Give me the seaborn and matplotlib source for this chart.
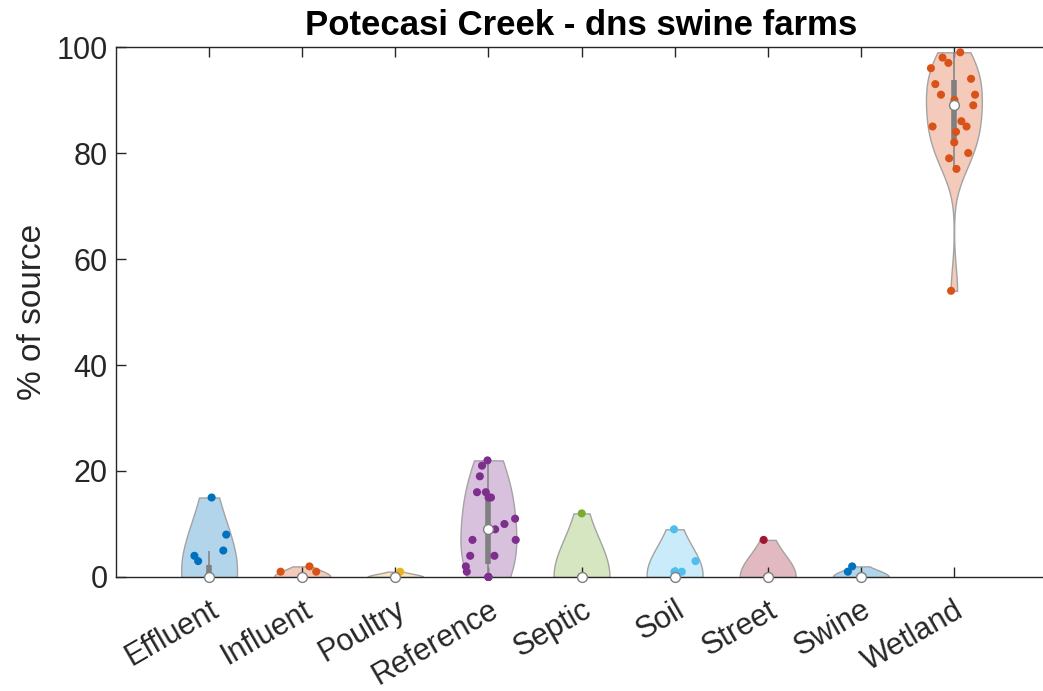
import numpy as np
import pandas as pd
import matplotlib
matplotlib.use("Agg")
import matplotlib.pyplot as plt
import matplotlib.colors as mcolors
import seaborn as sns

# ---------------- data ----------------
categories = ["Effluent", "Influent", "Poultry", "Reference", "Septic",
              "Soil", "Street", "Swine", "Wetland"]

effluent = [15, 8, 5, 4, 3, 0, 0, 0, 0, 0, 0, 0, 0, 0, 0, 0, 0, 0, 0]
influent = [2, 1, 1, 0, 0, 0, 0, 0, 0, 0, 0, 0, 0, 0, 0, 0, 0, 0, 0]
poultry = [1, 0, 0, 0, 0, 0, 0, 0, 0, 0, 0, 0, 0, 0, 0, 0, 0, 0, 0]
reference = [22, 21, 19, 16, 16, 15, 15, 11, 10, 9, 7, 7, 4, 4, 2, 1, 0, 0, 0]
septic = [12, 0, 0, 0, 0, 0, 0, 0, 0, 0, 0, 0, 0, 0, 0, 0, 0, 0, 0]
soil = [9, 3, 1, 1, 1, 0, 0, 0, 0, 0, 0, 0, 0, 0, 0, 0, 0, 0, 0]
street = [7, 0, 0, 0, 0, 0, 0, 0, 0, 0, 0, 0, 0, 0, 0, 0, 0, 0, 0]
swine = [2, 1, 0, 0, 0, 0, 0, 0, 0, 0, 0, 0, 0, 0, 0, 0, 0, 0, 0]
wetland = [99, 98, 97, 96, 94, 93, 91, 91, 90, 89, 86, 85, 85, 84, 82, 80, 79, 77, 54]

series = [effluent, influent, poultry, reference, septic, soil, street, swine, wetland]

colors = ["#0072BD", "#D95319", "#EDB120", "#7E2F8E", "#77AC30",
          "#4DBEEE", "#A2142F", "#0072BD", "#D95319"]

title = "Potecasi Creek - dns swine farms"
ylabel = "% of source"
yticks = [0, 20, 40, 60, 80, 100]

# ---------------- helpers ----------------
def matlab_bw(x):
    x = np.asarray(x, float)
    n = len(x)
    sig = np.median(np.abs(x - np.median(x))) / 0.6745
    if sig <= 0:
        sig = x.max() - x.min()
    if sig <= 0:
        sig = 1.0
    return sig * (4.0 / (3.0 * n)) ** 0.2


def kde(x, grid, bw):
    x = np.asarray(x, float)
    return np.exp(-0.5 * ((grid[:, None] - x[None, :]) / bw) ** 2).sum(axis=1)


def light(c, a=0.3):
    r = np.array(mcolors.to_rgb(c))
    return tuple(a * r + (1 - a) * 1.0)


# ---------------- figure ----------------
sns.set_style("white")
plt.rcParams["font.family"] = ["Liberation Sans", "DejaVu Sans"]
TXT = "#262626"

fig = plt.figure(figsize=(10.43, 6.91), dpi=100)
ax = fig.add_axes([116 / 1043, 114 / 691, 931 / 1043, 530 / 691])

HALF = 0.3
rng = np.random.default_rng(7)
pts_x, pts_y, pts_c = [], [], []

for i, (cat, vals, col) in enumerate(zip(categories, series, colors)):
    v = np.asarray(vals, float)
    bw = matlab_bw(v)
    factor = bw / np.std(v, ddof=1)
    df = pd.DataFrame({"source": [cat] * len(v), "pct": v})
    sns.violinplot(data=df, x="source", y="pct", order=categories, ax=ax,
                   color=light(col), saturation=1, linecolor="#a3a3a3",
                   linewidth=1.0, inner=None, cut=0, bw_method=factor,
                   density_norm="width", width=2 * HALF, gridsize=300)

    # jitter scaled by density (like MATLAB Violinplot)
    grid = np.linspace(v.min(), v.max(), 300)
    dmax = kde(v, grid, bw).max()
    rel = kde(v, v, bw) / dmax
    for val, r in zip(v, rel):
        off = 0.0 if val == 0 else rng.uniform(-1, 1) * HALF * r
        pts_x.append(i + off)
        pts_y.append(val)
        pts_c.append(col)

    # box statistics (MATLAB quantile = hazen)
    q1, q2, q3 = np.percentile(v, [25, 50, 75], method="hazen")
    iqr = q3 - q1
    lo = q1 - 1.5 * iqr
    hi = q3 + 1.5 * iqr
    above = v[v > lo]
    below = v[v < hi]
    lo = max(lo, above.min()) if above.size else q1
    hi = min(hi, below.max()) if below.size else q3
    if hi > lo:
        ax.vlines(i, lo, hi, color="0.55", lw=1.3, zorder=3)
    if q3 > q1:
        ax.vlines(i, q1, q3, color="0.5", lw=4, zorder=3.1)
    ax.scatter([i], [q2], s=50, facecolor="white", edgecolor="0.5",
               linewidth=1.0, zorder=6, clip_on=False)

pts = pd.DataFrame({"x": pts_x, "y": pts_y, "c": pts_c})
for col, sub in pts.groupby("c", sort=False):
    sns.scatterplot(data=sub, x="x", y="y", color=col, s=34, edgecolor="none",
                    ax=ax, zorder=5, clip_on=False, legend=False)

# ---------------- axes styling ----------------
ax.set_xlim(-1, 9)
ax.set_ylim(0, 100)
ax.set_yticks(yticks)
ax.set_yticklabels([str(t) for t in yticks])
ax.set_xticks(range(len(categories)))
ax.set_xticklabels(categories, rotation=30, ha="right", va="top",
                   rotation_mode="anchor")
ax.set_xlabel("")
ax.set_ylabel(ylabel, fontsize=24, color=TXT, labelpad=6)
ax.set_title(title, fontsize=25, fontweight="bold", color="black", pad=9)

ax.tick_params(axis="both", direction="in", length=7, width=1.0,
               colors=TXT, labelsize=22)
ax.tick_params(axis="x", top=True, bottom=True, pad=13)
ax.tick_params(axis="y", left=True, right=False, pad=6)

for side in ["left", "bottom", "top"]:
    ax.spines[side].set_visible(True)
    ax.spines[side].set_color(TXT)
    ax.spines[side].set_linewidth(1.0)
ax.spines["right"].set_visible(False)
ax.set_axisbelow(False)

fig.savefig("out.png", dpi=100)
